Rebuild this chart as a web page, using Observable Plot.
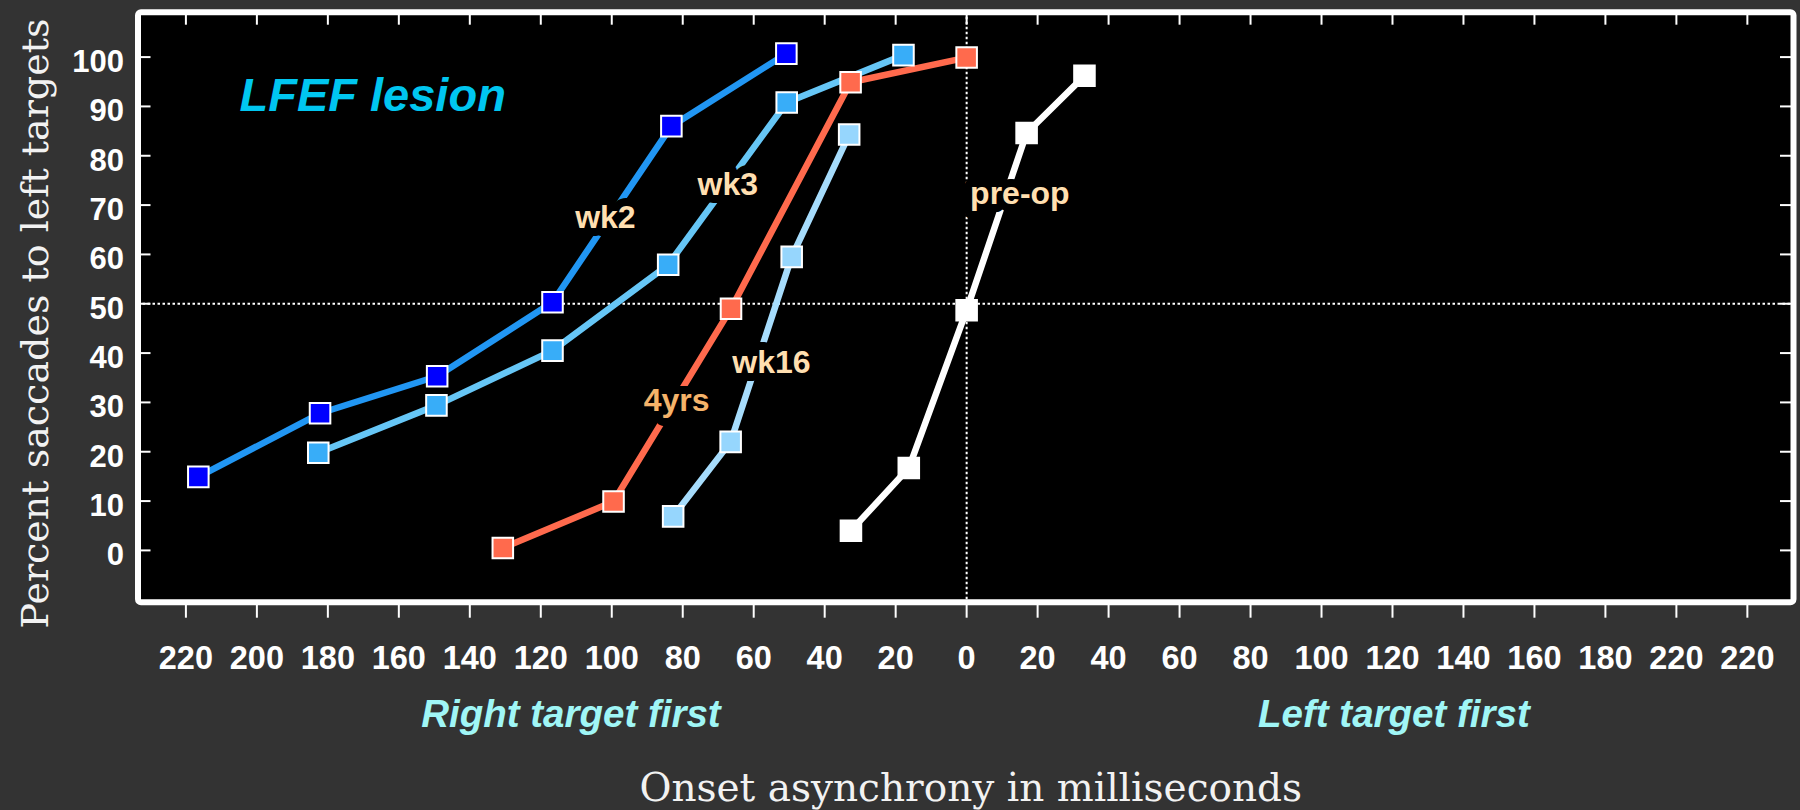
<!DOCTYPE html>
<html>
<head>
<meta charset="utf-8">
<script src="https://cdn.jsdelivr.net/npm/d3@7"></script>
<script src="https://cdn.jsdelivr.net/npm/@observablehq/plot@0.6"></script>
<style>
html, body { margin:0; padding:0; background:#333333; }
#chart { width:1800px; height:810px; }
</style>
</head>
<body>
<div id="chart"></div>
<script>
// ---- data ----
const seriesNames = ["wk2", "wk3", "4yrs", "wk16", "pre-op"];
const wk2X   = [-216.5, -182.2, -149.2, -116.7, -83.2, -50.8];
const wk2Y   = [14.9, 27.8, 35.3, 50.3, 86.0, 100.7];
const wk3X   = [-182.7, -149.4, -116.7, -84.1, -50.7, -17.8];
const wk3Y   = [19.8, 29.4, 40.5, 57.9, 90.8, 100.4];
const yrs4X  = [-130.7, -99.5, -66.4, -32.7, 0];
const yrs4Y  = [0.5, 9.9, 49.0, 94.9, 99.9];
const wk16X  = [-82.7, -66.5, -49.3, -33.1];
const wk16Y  = [6.9, 22.0, 59.5, 84.3];
const preopX = [-32.6, -16.3, 0, 16.9, 33.2];
const preopY = [4.0, 16.7, 48.7, 84.6, 96.2];

const xTickValues = [-220,-200,-180,-160,-140,-120,-100,-80,-60,-40,-20,0,20,40,60,80,100,120,140,160,180,200,220];
const xTickLabels = ["220","200","180","160","140","120","100","80","60","40","20","0","20","40","60","80","100","120","140","160","180","220","220"];
const yTickValues = [0,10,20,30,40,50,60,70,80,90,100];

const lineColors = {"wk2":"#2196f3","wk3":"#66c6f6","4yrs":"#ff6a4d","wk16":"#a6dcfc","pre-op":"#ffffff"};
const fillColors = {"wk2":"#0000ff","wk3":"#38adf8","4yrs":"#ff6a4d","wk16":"#96d6fd","pre-op":"#ffffff"};

// series label annotations (text, position in data units, colour)
const labelText  = ["wk2", "wk3", "4yrs", "wk16", "pre-op"];
const labelX     = [-101.8, -67.3, -81.7, -55.0, 15.0];
const labelY     = [67.5, 74.1, 30.4, 38.0, 72.3];
const labelColor = ["#ffdfb0", "#ffdfb0", "#f5b36a", "#ffdfb0", "#ffdfb0"];

const titleText = "LFEF lesion";
const yTitle = "Percent saccades to left targets";
const xTitle = "Onset asynchrony in milliseconds";
const sideText = ["Right target first", "Left target first"];
const sideX = [-111.5, 120.4];

// ---- build table ----
const seriesX = {"wk2": wk2X, "wk3": wk3X, "4yrs": yrs4X, "wk16": wk16X, "pre-op": preopX};
const seriesY = {"wk2": wk2Y, "wk3": wk3Y, "4yrs": yrs4Y, "wk16": wk16Y, "pre-op": preopY};
const rows = [];
for (const s of seriesNames) seriesX[s].forEach((x, i) => rows.push({series: s, x, y: seriesY[s][i]}));
const labels = labelText.map((t, i) => ({text: t, x: labelX[i], y: labelY[i], color: labelColor[i]}));
const xLabelMap = new Map(xTickValues.map((v, i) => [v, xTickLabels[i]]));

const W = 1800, H = 810;
const mL = 137.5, mR = 7, mT = 11.7, mB = 208.3;
const innerW = W - mL - mR, innerH = H - mT - mB;

const seriesMarks = [];
for (const s of seriesNames) {
  const d = rows.filter(r => r.series === s);
  seriesMarks.push(Plot.line(d, {x: "x", y: "y", stroke: lineColors[s], strokeWidth: 6.5, strokeLinejoin: "round"}));
}
for (const s of seriesNames) {
  const d = rows.filter(r => r.series === s);
  seriesMarks.push(Plot.dot(d, {x: "x", y: "y", symbol: "square", r: 11.6, fill: fillColors[s], stroke: "#ffffff", strokeWidth: 2}));
}

const chart = Plot.plot({
  width: W, height: H,
  marginLeft: mL, marginRight: mR, marginTop: mT, marginBottom: mB,
  style: {background: "#333333", color: "white", fontFamily: "'Liberation Sans', Arial, sans-serif", overflow: "visible"},
  x: {domain: [-233.5, 233], label: null},
  y: {domain: [-10.5, 109.1], label: null},
  marks: [
    Plot.frame({fill: "black"}),
    Plot.ruleY([50], {stroke: "white", strokeWidth: 2, strokeDasharray: "2.5,2.5"}),
    Plot.ruleX([0], {stroke: "white", strokeWidth: 2, strokeDasharray: "2.5,2.5"}),
    ...seriesMarks,
    Plot.text(labels, {x: "x", y: "y", text: "text", fill: "color", stroke: "black", strokeWidth: 16, fontSize: 32, fontWeight: "bold"}),
    Plot.text([titleText], {x: [-204.9], y: [92.2], text: d => d, textAnchor: "start", fill: "#00c6f0", fontSize: 47, fontWeight: "bold", fontStyle: "italic"}),
    // inward ticks on top, left, right
    Plot.ruleX(xTickValues, {x: d => d, insetBottom: innerH - 13, stroke: "white", strokeWidth: 2}),
    Plot.ruleY(yTickValues, {y: d => d, insetRight: innerW - 13, stroke: "white", strokeWidth: 2}),
    Plot.ruleY(yTickValues, {y: d => d, insetLeft: innerW - 13, stroke: "white", strokeWidth: 2}),
    Plot.frame({stroke: "white", strokeWidth: 6, rx: 3}),
    Plot.axisX({ticks: xTickValues, tickFormat: d => xLabelMap.get(d), tickSize: 16, tickPadding: 28, fontSize: 32.5, fontWeight: "bold", strokeWidth: 2, label: null}),
    Plot.axisY({ticks: yTickValues, tickSize: 0, tickPadding: 14, fontSize: 31, fontWeight: "bold", dy: 5, label: null}),
    Plot.text(sideText, {x: sideX, text: d => d, frameAnchor: "bottom", lineAnchor: "middle", dy: 112, fill: "#a0f6f6", fontSize: 38.5, fontWeight: "bold", fontStyle: "italic"}),
    Plot.text([xTitle], {text: d => d, frameAnchor: "bottom", lineAnchor: "middle", textAnchor: "middle", dx: 5, dy: 186.8, fill: "#f2f2f2", fontSize: 39, fontFamily: "'DejaVu Serif', serif"}),
    Plot.text([yTitle], {text: d => d, frameAnchor: "left", lineAnchor: "middle", textAnchor: "middle", rotate: -90, dx: -101.7, dy: 16.3, fill: "#f2f2f2", fontSize: 38, fontFamily: "'DejaVu Serif', serif"})
  ]
});
document.getElementById("chart").appendChild(chart);
</script>
</body>
</html>
